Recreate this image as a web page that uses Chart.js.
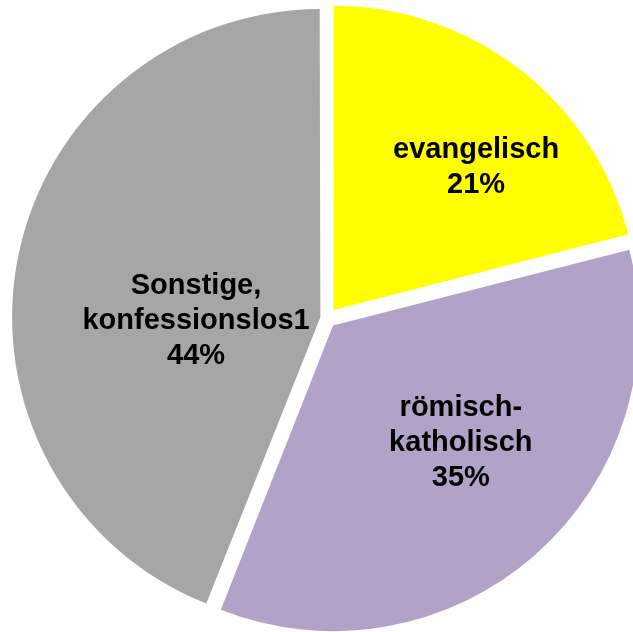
<!DOCTYPE html>
<html>
<head>
<meta charset="utf-8">
<script src="https://cdn.jsdelivr.net/npm/chart.js@4.4.0/dist/chart.umd.min.js"></script>
<style>
  html, body { margin: 0; padding: 0; background: #fff; }
  #wrap { width: 633px; height: 632px; position: relative; }
</style>
</head>
<body>
<div id="wrap"><canvas id="chart"></canvas></div>
<script>
'use strict'

// data
const categories = [['evangelisch'], ['römisch-', 'katholisch'], ['Sonstige,', 'konfessionslos1']];
const shares = [21, 35, 44];
const colors = ['#FFFF00', '#B3A2C7', '#A6A6A6'];

// where each label sits: angle from 12 o'clock (deg) and distance from pie centre (px)
const labelSpots = [
    { deg: 44.7, dist: 212 },
    { deg: 133, dist: 183 },
    { deg: 268.7, dist: 131 }
];

const sliceLabels = {
    id: 'sliceLabels',
    afterDatasetsDraw(chart) {
        const ctx = chart.ctx;
        const meta = chart.getDatasetMeta(0);
        ctx.save();
        ctx.font = 'bold 29px "Liberation Sans", Arial, sans-serif';
        ctx.fillStyle = '#000';
        ctx.textAlign = 'center';
        ctx.textBaseline = 'middle';
        meta.data.forEach((arc, i) => {
            const spot = labelSpots[i];
            const a = (spot.deg - 90) * Math.PI / 180;
            const cx = arc.x + Math.cos(a) * spot.dist;
            const cy = arc.y + Math.sin(a) * spot.dist;
            const lines = categories[i].concat([shares[i] + '%']);
            const lh = 35;
            const top = cy - (lines.length - 1) * lh / 2;
            lines.forEach((t, j) => ctx.fillText(t, cx, top + j * lh));
        });
        ctx.restore();
    }
};

const ctx = document.getElementById('chart').getContext('2d');
const myChart = new Chart(ctx, {
    type: 'pie',
    data: {
        labels: categories.map(c => c.join(' ')),
        datasets: [{
            data: shares,
            backgroundColor: colors,
            borderWidth: 0,
            // chart.js pushes bigger slices out less, so these even out to ~11px each
            offset: [42.7, 36.9, 27]
        }]
    },
    options: {
        responsive: true,
        maintainAspectRatio: false,
        animation: false,
        radius: 304,
        layout: { padding: { left: 21, top: 5 } },
        plugins: {
            legend: { display: false },
            tooltip: { enabled: false }
        }
    },
    plugins: [sliceLabels]
});
</script>
</body>
</html>
